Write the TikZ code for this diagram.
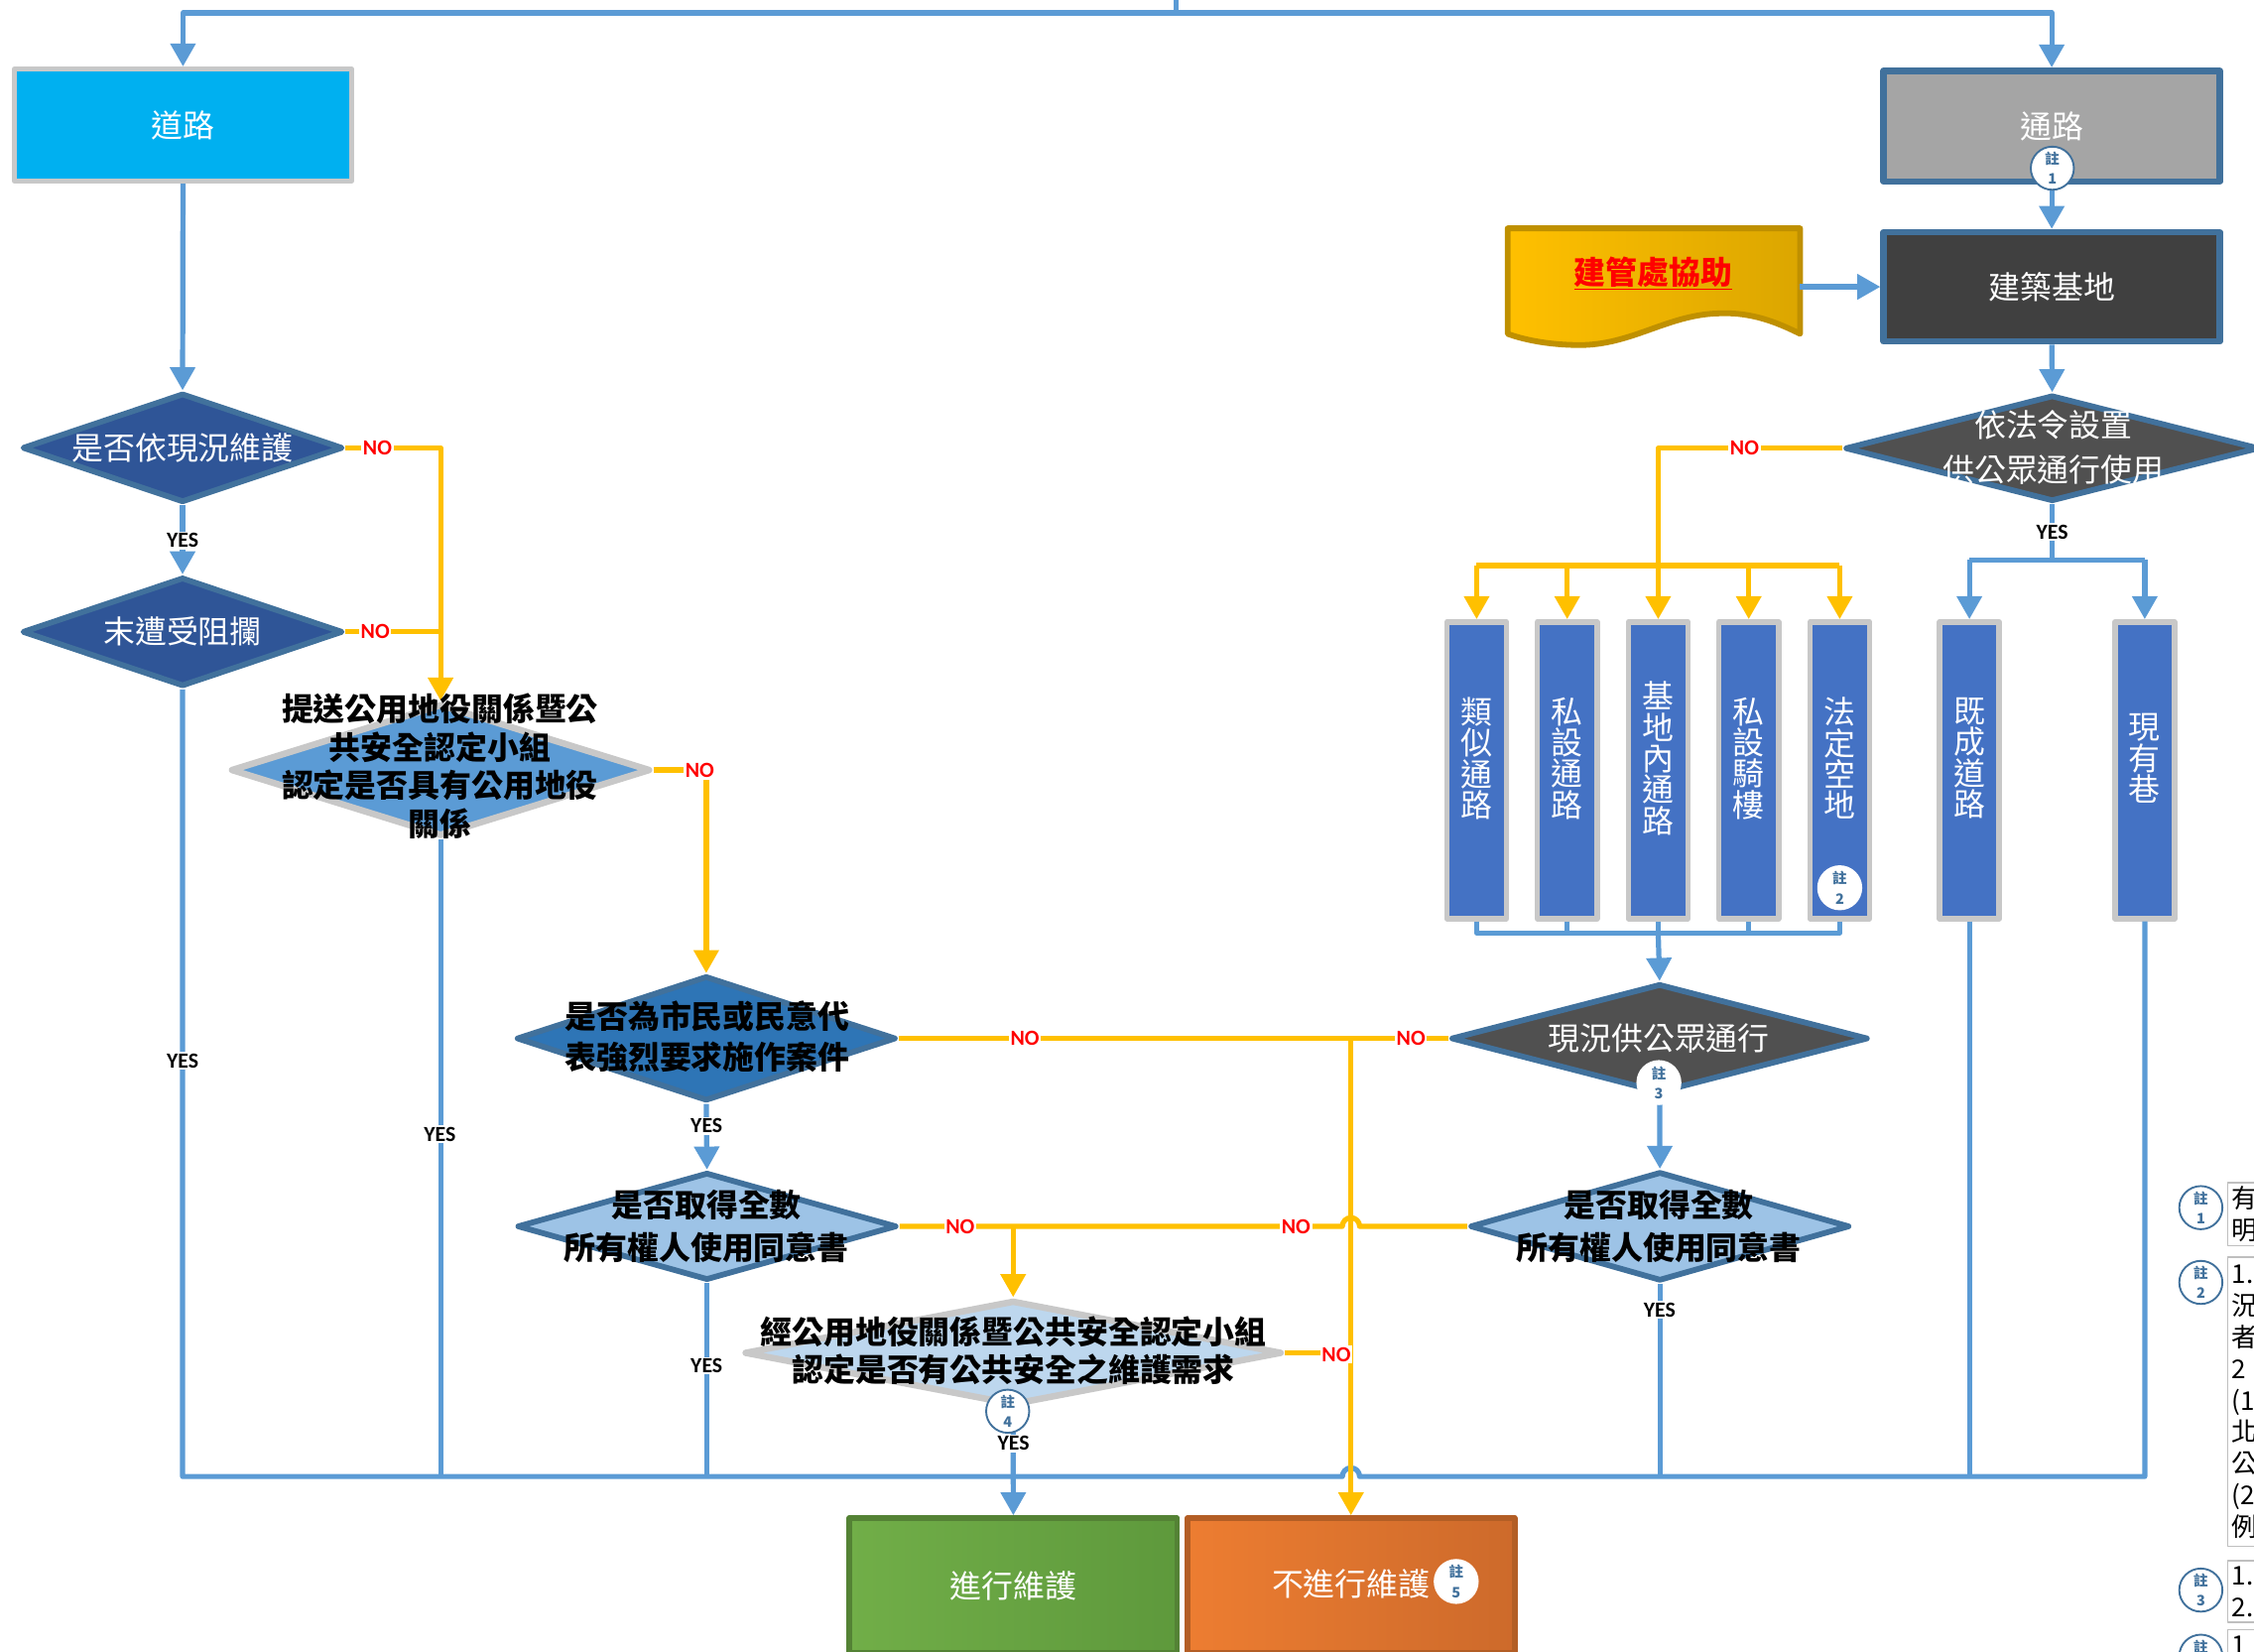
\documentclass[tikz,border=0pt]{standalone}
\usepackage{fontspec}
\setmainfont{Noto Sans CJK TC}
\newfontfamily\cjkf{Noto Sans CJK TC}
\newfontfamily\latf{Carlito}
\usetikzlibrary{arrows.meta,shapes.geometric}
\definecolor{cBlue}{HTML}{5B9BD5}
\definecolor{cYel}{HTML}{FFC000}
\definecolor{cRoad}{HTML}{00B0F0}
\definecolor{cGrayB}{HTML}{C8C8C8}
\definecolor{cEdge}{HTML}{41719C}
\definecolor{cDkB}{HTML}{2F5597}
\definecolor{cMid}{HTML}{2E75B6}
\definecolor{cLt}{HTML}{9DC3E6}
\definecolor{cSky}{HTML}{5B9BD5}
\definecolor{cPale}{HTML}{BDD7EE}
\definecolor{cDark}{HTML}{505050}
\definecolor{cSite}{HTML}{404040}
\definecolor{cPath}{HTML}{A5A5A5}
\definecolor{cVbox}{HTML}{4472C4}
\definecolor{cGoldA}{HTML}{FFC000}
\definecolor{cGoldC}{HTML}{DBA600}
\definecolor{cGoldB}{HTML}{BF9000}
\definecolor{cGreenA}{HTML}{71AE48}
\definecolor{cGreenC}{HTML}{5E993C}
\definecolor{cGreenB}{HTML}{548235}
\definecolor{cOrA}{HTML}{ED7D31}
\definecolor{cOrC}{HTML}{CD6A2B}
\definecolor{cOrB}{HTML}{B35E25}
\definecolor{cNote}{HTML}{41719C}
\definecolor{cNoteB}{HTML}{BFBFBF}
\begin{document}
\begin{tikzpicture}[x=1pt,y=-1pt,line join=round,
  bl/.style={draw=cBlue,line width=3.6pt},
  yl/.style={draw=cYel,line width=3.6pt},
  arr/.style={-{Triangle[length=16pt,width=17pt]}},
  dia/.style={diamond,inner sep=0pt,line width=4pt,draw=cEdge},
  wtxt/.style={text=white,font=\cjkf\fontsize{22}{#1}\selectfont,align=center,inner sep=0pt},
  wtxt/.default=26,
  btxt/.style={text=black,font=\cjkf\bfseries\fontsize{22}{#1}\selectfont,align=center,inner sep=0pt},
  btxt/.default=26,
  vbox/.style={rectangle,fill=cVbox,draw=cGrayB,line width=3.8pt,minimum width=41.5pt,minimum height=206.4pt,inner sep=0pt},
  vtxt/.style={text=white,font=\cjkf\fontsize{22}{21.7}\selectfont,align=center,inner sep=0pt},
  yeslab/.style={fill=white,inner sep=1.2pt,font=\latf\bfseries\fontsize{15}{15}\selectfont},
  nolab/.style={yeslab,text=red},
  notec/.style={circle,fill=white,draw=cEdge,line width=1.3pt,minimum size=30pt,inner sep=0pt,align=center,text=cNote,font=\cjkf\bfseries\fontsize{10}{14}\selectfont},
  notew/.style={notec,draw=white},
  nbox/.style={rectangle,draw=cNoteB,line width=1pt,fill=white,inner xsep=3pt,inner ysep=0pt,text width=70pt,align=left,anchor=north west,font=\cjkf\fontsize{18}{22}\selectfont}
]
\useasboundingbox (0,0) rectangle (1568,1149);

% ---------- boxes ----------
\node[rectangle,fill=cRoad,draw=cGrayB,line width=3.5pt,minimum width=234.5pt,minimum height=78pt,wtxt] (road) at (127.3,87) {道路};
\node[rectangle,fill=cPath,draw=cEdge,line width=4.5pt,minimum width=234pt,minimum height=77pt,wtxt] (path) at (1427.3,87.7) {通路};
\node[rectangle,fill=cSite,draw=cEdge,line width=4.5pt,minimum width=234pt,minimum height=76pt,wtxt] (site) at (1427.3,199.5) {建築基地};
\node[rectangle,minimum width=203pt,minimum height=73pt,inner sep=0pt] (doc) at (1150.5,195.5) {};
\path[left color=cGoldA,right color=cGoldC,draw=cGoldB,line width=4pt]
  (doc.north west) -- (doc.north east) -- (doc.south east)
  .. controls (1232,222) and (1215,217) .. (1195,218)
  .. controls (1160,219) and (1135,240) .. (1099,240)
  .. controls (1080,240) and (1062,237) .. (doc.south west) -- cycle;

% ---------- diamonds ----------
\node[dia,fill=cDkB,minimum width=223pt,minimum height=76pt] (d1) at (127,311.5) {};
\node[dia,fill=cDkB,minimum width=223pt,minimum height=76pt] (d2) at (127,439.5) {};
\node[dia,fill=cSky,draw=cGrayB,line width=4.5pt,minimum width=292pt,minimum height=92pt] (d3) at (306.5,535.6) {};
\node[dia,fill=cMid,minimum width=264pt,minimum height=87pt] (d4) at (491.3,722.3) {};
\node[dia,fill=cLt,minimum width=264pt,minimum height=75pt] (d5) at (491.8,853) {};
\node[dia,fill=cPale,draw=cGrayB,line width=4.5pt,minimum width=374pt,minimum height=73pt] (d6) at (704.8,941) {};
\node[dia,fill=cDark,minimum width=288pt,minimum height=74pt] (d7) at (1427.6,311.8) {};
\node[dia,fill=cDark,minimum width=290pt,minimum height=76pt] (d8) at (1154.5,722.3) {};
\node[dia,fill=cLt,minimum width=264pt,minimum height=76pt] (d9) at (1154.7,853) {};

% ---------- vertical boxes ----------
\node[vbox] (b1) at (1027.2,535.8) {};
\node[vbox] (b2) at (1090.2,535.8) {};
\node[vbox] (b3) at (1153.5,535.8) {};
\node[vbox] (b4) at (1216.5,535.8) {};
\node[vbox] (b5) at (1279.8,535.8) {};
\node[vbox] (b6) at (1370,535.8) {};
\node[vbox] (b7) at (1492,535.8) {};

% ---------- end boxes ----------
\node[rectangle,left color=cGreenA,right color=cGreenC,draw=cGreenB,line width=4pt,minimum width=228pt,minimum height=94pt,wtxt] (go) at (704.9,1103) {進行維護};
\node[rectangle,left color=cOrA,right color=cOrC,draw=cOrB,line width=4pt,minimum width=227.6pt,minimum height=94pt,inner sep=0pt] (nogo) at (939.8,1103) {};

% ---------- coordinates ----------
\coordinate (topsrc) at (818,-20);
\coordinate (topj) at (818,9);
\coordinate (yj) at (1153.5,393.4);
\coordinate (bj) at (1427.6,389.5);
\coordinate (bb) at (1153.5,648.8);
\coordinate (busL) at (127,1027);
\coordinate (hopB) at (939.8,1027);
\coordinate (hopY) at (939.8,853);

% ---------- blue connectors ----------
\draw[bl] (topsrc) -- (topj);
\draw[bl,arr] (topj) -| (road.north);
\draw[bl,arr] (topj) -| (path.north);
\draw[bl,arr] (path.south) -- (site.north);
\draw[bl,arr] (doc.east |- site.west) -- (site.west);
\draw[bl,arr] (site.south) -- (d7.north);
\draw[bl] (d7.south) -- (bj);
\draw[bl] (b6.north |- bj) -- (b7.north |- bj);
\draw[bl,arr] (b6.north |- bj) -- (b6.north);
\draw[bl,arr] (b7.north |- bj) -- (b7.north);
\draw[bl] (b1.south) |- (b5.south |- bb) -- (b5.south);
\foreach \b in {b2,b3,b4} \draw[bl] (\b.south) -- (\b.south |- bb);
\draw[bl,arr] (bb) -- (d8.north);
\draw[bl,arr] (d8.south) -- (d9.north);
\draw[bl,arr] (road.south) -- (d1.north);
\draw[bl,arr] (d1.south) -- (d2.north);
\draw[bl,arr] (d4.south) -- (d5.north);
\draw[bl] (d2.south) -- (d2.south |- busL) -- ([xshift=-6pt]hopB)
  arc[start angle=180,end angle=0,radius=6pt] -- (b7.south |- busL) -- (b7.south);
\draw[bl] (d3.south) -- (d3.south |- busL);
\draw[bl] (d5.south) -- (d5.south |- busL);
\draw[bl] (d9.south) -- (d9.south |- busL);
\draw[bl] (b6.south) -- (b6.south |- busL);
\draw[bl,arr] (d6.south) -- (go.north);

% ---------- yellow connectors ----------
\draw[yl] (d7.west) -| (yj);
\draw[yl] (b1.north |- yj) -- (b5.north |- yj);
\foreach \b in {b1,b2,b3,b4,b5} \draw[yl,arr] (\b.north |- yj) -- (\b.north);
\draw[yl,arr] (d1.east) -| (d3.north);
\draw[yl] (d2.east) -- (d2.east -| d3.north);
\draw[yl,arr] (d3.east) -| (d4.north);
\draw[yl] (d4.east) -- (d8.west);
\draw[yl,arr] (d4.east -| nogo.north) -- (nogo.north);
\draw[yl] (d6.east) -- (d6.east -| nogo.north);
\draw[yl] (d5.east) -- ([xshift=-6pt]hopY)
  arc[start angle=180,end angle=0,radius=6pt] -- (d9.west);
\draw[yl,arr] (d6.north |- d5.east) -- (d6.north);

% ---------- texts ----------
\node[wtxt] (d1t) at (127,311.5) {是否依現況維護};
\node[wtxt] (d2t) at (127,439.5) {末遭受阻攔};
\node[btxt=26.6] (d3t) at (306,533) {提送公用地役關係暨公\\共安全認定小組\\認定是否具有公用地役\\關係};
\node[btxt=28.5] (d4t) at (492,721) {是否為市民或民意代\\表強烈要求施作案件};
\node[btxt=30] (d5t) at (491.5,853) {是否取得全數\\所有權人使用同意書};
\node[btxt=30] (d9t) at (1154,853) {是否取得全數\\所有權人使用同意書};
\node[btxt=26.5] (d6t) at (705,939.5) {經公用地役關係暨公共安全認定小組\\認定是否有公共安全之維護需求};
\node[wtxt=31] (d7t) at (1428.5,311.3) {依法令設置\\供公眾通行使用};
\node[wtxt] (d8t) at (1154,722) {現況供公眾通行};
\node[inner sep=0pt,text=red,font=\cjkf\bfseries\fontsize{22}{26}\selectfont] (doct) at (1150,190) {\underline{建管處協助}};
\node[wtxt] (nogot) at (939.8,1102) {不進行維護};

\node[vtxt] (b1t) at (1027.2,527.5) {類\\似\\通\\路};
\node[vtxt] (b2t) at (1090.2,527.5) {私\\設\\通\\路};
\node[vtxt] (b3t) at (1153.5,527.5) {基\\地\\內\\通\\路};
\node[vtxt] (b4t) at (1216.5,527.5) {私\\設\\騎\\樓};
\node[vtxt] (b5t) at (1279.8,527.5) {法\\定\\空\\地};
\node[vtxt] (b6t) at (1370,527.5) {既\\成\\道\\路};
\node[vtxt] (b7t) at (1492,527.5) {現\\有\\巷};

% ---------- YES / NO labels ----------
\node[yeslab] (y1) at (127,376) {YES};
\node[yeslab] (y2) at (127,738) {YES};
\node[yeslab] (y3) at (306,789) {YES};
\node[yeslab] (y4) at (491.5,783) {YES};
\node[yeslab] (y5) at (491.5,950) {YES};
\node[yeslab] (y6) at (705,1004) {YES};
\node[yeslab] (y7) at (1427.6,370) {YES};
\node[yeslab] (y8) at (1154.5,911) {YES};
\node[nolab] (n1) at (262.6,311.5) {NO};
\node[nolab] (n2) at (261,439.5) {NO};
\node[nolab] (n3) at (486.8,536) {NO};
\node[nolab] (n4) at (713,722.3) {NO};
\node[nolab] (n5) at (981.5,722.3) {NO};
\node[nolab] (n6) at (1213.6,311.8) {NO};
\node[nolab] (n7) at (668,853) {NO};
\node[nolab] (n8) at (901.5,853) {NO};
\node[nolab] (n9) at (929.6,942) {NO};

% ---------- note markers ----------
\node[notec] (c1) at (1427.7,117) {註\\1};
\node[notew] (c2) at (1279.8,617.5) {註\\2};
\node[notew] (c3) at (1154,753) {註\\3};
\node[notec] (c4) at (701,981.6) {註\\4};
\node[notew] (c5) at (1013,1100) {註\\5};

% ---------- notes column ----------
\node[nbox,minimum height=44pt] (t1) at (1549,822) {有\\明};
\node[nbox,minimum height=201pt] (t2) at (1549,874) {1.\\況\\者\\2\\(1\\北\\公\\(2\\例};
\node[nbox,minimum height=43pt] (t3) at (1549,1085) {1.\\2.};
\node[nbox,minimum height=22pt] (t4) at (1549,1133) {1};
\node[notec,fill=none] (m1) at (1531,840) {註\\1};
\node[notec,fill=none] (m2) at (1531,892) {註\\2};
\node[notec,fill=none] (m3) at (1531,1106) {註\\3};
\node[notec,fill=none] (m4) at (1531,1152) {註\\4};
\end{tikzpicture}
\end{document}
